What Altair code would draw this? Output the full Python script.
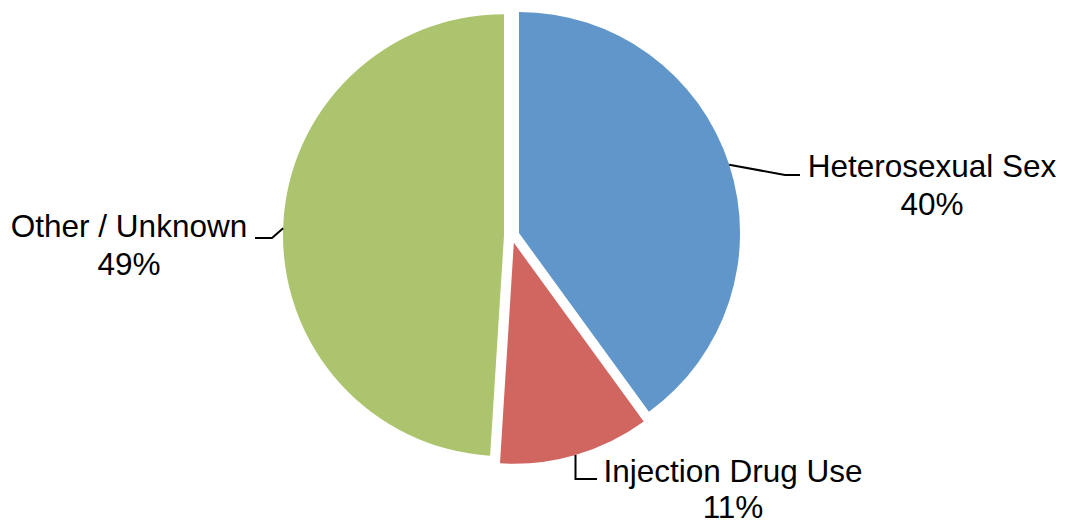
import math
import altair as alt
import pandas as pd

# ---- data ----
categories = ["Heterosexual Sex", "Injection Drug Use", "Other / Unknown"]
values = [40, 11, 49]
colors = ["#6096CA", "#D0665F", "#ACC46D"]

# ---- layout (pixels inside the plot area; page margin is 8px) ----
W, H = 1049, 513
CX, CY = 503.7, 227.4      # pie centre
R = 221                    # pie radius
EXPLODE = 7.7              # slice explosion distance
FONT = "Liberation Sans"
FS = 31.5
# label anchors: centre x, first-line baseline y
label_pos = {"Heterosexual Sex": (924, 169), "Injection Drug Use": (725, 474), "Other / Unknown": (121, 229)}
line_h = {"Heterosexual Sex": 38, "Injection Drug Use": 36, "Other / Unknown": 38}
# leader ends (x, y) and elbow x
leader_end = {"Heterosexual Sex": (792, 167), "Injection Drug Use": (589, 471), "Other / Unknown": (247, 230)}
leader_elbow_x = {"Heterosexual Sex": 777, "Injection Drug Use": None, "Other / Unknown": 264}

total = sum(values)
rows, lab_rows, lead_rows = [], [], []
acc = 0.0
for c, v, col in zip(categories, values, colors):
    a0 = acc / total * 2 * math.pi
    acc += v
    a1 = acc / total * 2 * math.pi
    mid = (a0 + a1) / 2
    sx = CX + EXPLODE * math.sin(mid)
    sy = CY - EXPLODE * math.cos(mid)
    rows.append({"cat": c, "value": v, "a0": a0, "a1": a1, "x": sx, "y": sy})
    lx, ly = label_pos[c]
    lab_rows.append({"cat": c, "text": c, "x": lx, "y": ly})
    lab_rows.append({"cat": c, "text": f"{v}%", "x": lx, "y": ly + line_h[c]})
    px = sx + R * math.sin(mid)
    py = sy - R * math.cos(mid)
    ex, ey = leader_end[c]
    elx = leader_elbow_x[c] if leader_elbow_x[c] is not None else px
    for i, (xx, yy) in enumerate([(px, py), (elx, ey), (ex, ey)]):
        lead_rows.append({"cat": c, "i": i, "x": xx, "y": yy})

df = pd.DataFrame(rows)
labels = pd.DataFrame(lab_rows)
leaders = pd.DataFrame(lead_rows)

pie = alt.Chart(df).mark_arc(outerRadius=R, innerRadius=0).encode(
    x=alt.X("x:Q", scale=None),
    y=alt.Y("y:Q", scale=None),
    theta=alt.Theta("a0:Q", scale=None),
    theta2="a1:Q",
    color=alt.Color("cat:N", scale=alt.Scale(domain=categories, range=colors), legend=None),
)

lines = alt.Chart(leaders).mark_line(color="black", strokeWidth=2).encode(
    x=alt.X("x:Q", scale=None),
    y=alt.Y("y:Q", scale=None),
    detail="cat:N",
    order="i:Q",
)

text = alt.Chart(labels).mark_text(
    font=FONT, fontSize=FS, align="center", baseline="alphabetic", color="black",
).encode(
    x=alt.X("x:Q", scale=None),
    y=alt.Y("y:Q", scale=None),
    text="text:N",
)

chart = (pie + lines + text).properties(
    width=W, height=H, autosize=alt.AutoSizeParams(type="none"), padding=0
).configure_view(stroke=None)

chart.save("out.html", embed_options={"renderer": "svg", "actions": False})
